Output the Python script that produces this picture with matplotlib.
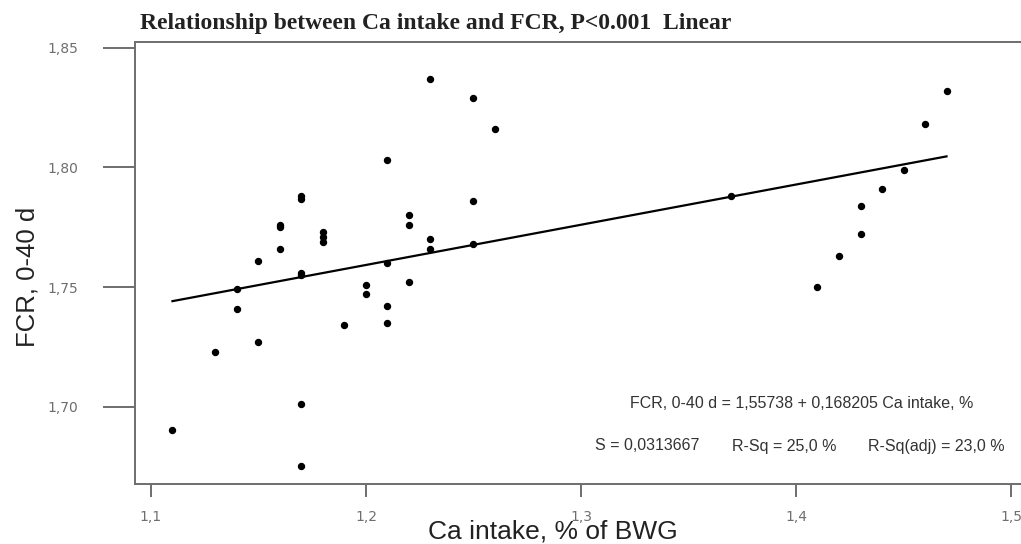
import numpy as np
import matplotlib
matplotlib.use("Agg")
import matplotlib.pyplot as plt

# ---------------------------------------
# Data
# ---------------------------------------
ca_intake = [
    1.11, 1.13, 1.14, 1.14, 1.15, 1.15, 1.16, 1.16, 1.16,
    1.17, 1.17, 1.17, 1.17, 1.17, 1.17, 1.18, 1.18, 1.18,
    1.19, 1.20, 1.20, 1.21, 1.21, 1.21, 1.21, 1.22, 1.22, 1.22,
    1.23, 1.23, 1.23, 1.25, 1.25, 1.25, 1.26, 1.37,
    1.41, 1.42, 1.43, 1.43, 1.44, 1.45, 1.46, 1.47,
]
fcr = [
    1.690, 1.723, 1.741, 1.749, 1.727, 1.761, 1.766, 1.775, 1.776,
    1.788, 1.787, 1.756, 1.755, 1.701, 1.675, 1.773, 1.771, 1.769,
    1.734, 1.751, 1.747, 1.803, 1.760, 1.742, 1.735, 1.780, 1.776, 1.752,
    1.837, 1.770, 1.766, 1.829, 1.786, 1.768, 1.816, 1.788,
    1.750, 1.763, 1.784, 1.772, 1.791, 1.799, 1.818, 1.832,
]

# regression reported on the chart
intercept = 1.55738
slope = 0.168205

x_ticks = [1.1, 1.2, 1.3, 1.4, 1.5]
x_tick_labels = ["1,1", "1,2", "1,3", "1,4", "1,5"]
y_ticks = [1.70, 1.75, 1.80, 1.85]
y_tick_labels = ["1,70", "1,75", "1,80", "1,85"]

# ---------------------------------------
# Plot
# ---------------------------------------
fig = plt.figure(figsize=(10.21, 5.44), dpi=100)
ax = fig.add_axes([0.1322, 0.1103, 0.8717, 0.8134])

ax.plot(ca_intake, fcr, "o", color="black", markersize=4.3, zorder=3)

x_fit = np.array([min(ca_intake), max(ca_intake)])
ax.plot(x_fit, intercept + slope * x_fit, color="black", linewidth=1.6, zorder=2)

ax.set_xlim(1.09256, 1.5065)
ax.set_ylim(1.6676, 1.8527)

ax.set_xticks(x_ticks)
ax.set_xticklabels(x_tick_labels)
ax.set_yticks(y_ticks)
ax.set_yticklabels(y_tick_labels)

grey = "#6e6e6e"
for s in ax.spines.values():
    s.set_color(grey)
    s.set_linewidth(1.4)

ax.tick_params(axis="y", length=23, width=1.4, color=grey, labelcolor=grey,
               labelsize=10, pad=18)
ax.tick_params(axis="x", length=9, width=1.4, color=grey, labelcolor=grey,
               labelsize=10, pad=10)

fig.text(0.137, 1 - 23 / 544, "Relationship between Ca intake and FCR, P<0.001  Linear",
         family="Liberation Serif", fontweight="bold", fontsize=17,
         ha="left", va="center", color="#222222")

fig.text(0.027, 1 - 277 / 544, "FCR, 0-40 d", rotation=90, family="Liberation Sans",
         fontsize=18.5, ha="center", va="center", color="#222222")
fig.text(553 / 1021, 1 - 531 / 544, "Ca intake, % of BWG", family="Liberation Sans",
         fontsize=19, ha="center", va="center", color="#222222")

ann = dict(family="Liberation Sans", fontsize=11.5, color="#333333", va="center")
fig.text(801.5 / 1021, 1 - 403 / 544, "FCR, 0-40 d = 1,55738 + 0,168205 Ca intake, %",
         ha="center", **ann)
fig.text(595 / 1021, 1 - 446 / 544, "S = 0,0313667", ha="left", **ann)
fig.text(732 / 1021, 1 - 446 / 544, "R-Sq = 25,0 %", ha="left", **ann)
fig.text(1005 / 1021, 1 - 446 / 544, "R-Sq(adj) = 23,0 %", ha="right", **ann)

fig.savefig("out.png", dpi=100)
plt.close(fig)
